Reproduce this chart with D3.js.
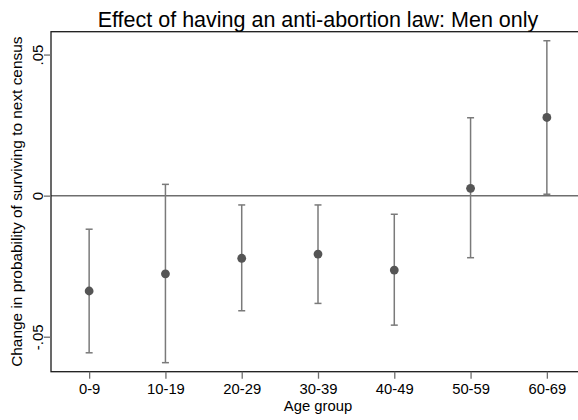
<!DOCTYPE html>
<html>
<head>
<meta charset="utf-8">
<script src="https://cdn.jsdelivr.net/npm/d3@7"></script>
<style>
  html, body { margin: 0; padding: 0; background: #fff; }
  svg { display: block; font-family: "Liberation Sans", Arial, sans-serif; }
</style>
</head>
<body>
<svg id="chart" width="578" height="420"></svg>
<script>
// Age groups and estimated effects with 95% confidence bounds
const categories = ["0-9", "10-19", "20-29", "30-39", "40-49", "50-59", "60-69"];
const estimates  = [-0.0338, -0.0277, -0.0222, -0.0207, -0.0264, 0.0026, 0.0277];
const lowerBound = [-0.0557, -0.0592, -0.0408, -0.0382, -0.0459, -0.0220, 0.0005];
const upperBound = [-0.0119, 0.0040, -0.0033, -0.0033, -0.0066, 0.0276, 0.0549];
const yTickValues = [-0.05, 0, 0.05];
const yTickLabels = ["-.05", "0", ".05"];

const titleText = "Effect of having an anti-abortion law: Men only";
const yTitleText = "Change in probability of surviving to next census";
const xTitleText = "Age group";

const svg = d3.select("#chart");
const plot = { left: 51, right: 585, top: 31.7, bottom: 371.7 };

const x = d3.scaleLinear().domain([0.5, categories.length + 0.5]).range([plot.left, plot.right]);
const y = d3.scaleLinear().domain([-0.0624, 0.0581]).range([plot.bottom, plot.top]);

const rows = categories.map((c, i) => ({
  cat: c, pos: i + 1, est: estimates[i], lo: lowerBound[i], hi: upperBound[i]
}));

// Zero reference line
svg.append("line")
  .attr("x1", plot.left).attr("x2", plot.right)
  .attr("y1", y(0)).attr("y2", y(0))
  .attr("stroke", "#6e6e6e").attr("stroke-width", 1.5);

// Confidence intervals
const capHalf = 3.5;
const ci = svg.append("g").attr("stroke", "#7a7a7a").attr("stroke-width", 1.5);
ci.selectAll("line.bar").data(rows).join("line").attr("class", "bar")
  .attr("x1", d => x(d.pos)).attr("x2", d => x(d.pos))
  .attr("y1", d => y(d.lo)).attr("y2", d => y(d.hi));
ci.selectAll("line.capHi").data(rows).join("line").attr("class", "capHi")
  .attr("x1", d => x(d.pos) - capHalf).attr("x2", d => x(d.pos) + capHalf)
  .attr("y1", d => y(d.hi)).attr("y2", d => y(d.hi));
ci.selectAll("line.capLo").data(rows).join("line").attr("class", "capLo")
  .attr("x1", d => x(d.pos) - capHalf).attr("x2", d => x(d.pos) + capHalf)
  .attr("y1", d => y(d.lo)).attr("y2", d => y(d.lo));

// Point estimates
svg.append("g").selectAll("circle").data(rows).join("circle")
  .attr("cx", d => x(d.pos)).attr("cy", d => y(d.est)).attr("r", 4.4)
  .attr("fill", "#555555");

// Plot frame
svg.append("rect")
  .attr("x", plot.left).attr("y", plot.top)
  .attr("width", plot.right - plot.left).attr("height", plot.bottom - plot.top)
  .attr("fill", "none").attr("stroke", "#1a1a1a").attr("stroke-width", 1.3);

// Y axis
const yAxis = d3.axisLeft(y)
  .tickValues(yTickValues)
  .tickFormat((d, i) => yTickLabels[i])
  .tickSize(7).tickPadding(0);
const gy = svg.append("g").attr("transform", `translate(${plot.left},0)`).call(yAxis);
gy.select(".domain").remove();
gy.selectAll(".tick line").attr("stroke", "#6e6e6e").attr("stroke-width", 1.3);
gy.selectAll(".tick text")
  .attr("x", 0).attr("dy", null)
  .attr("transform", "translate(-8,0) rotate(-90)")
  .attr("text-anchor", "middle")
  .attr("font-size", 15).attr("fill", "#000")
  .attr("font-family", "Liberation Sans, Arial, sans-serif");

// X axis
const xAxis = d3.axisBottom(x)
  .tickValues(rows.map(d => d.pos))
  .tickFormat((d, i) => categories[i])
  .tickSize(7).tickPadding(4);
const gx = svg.append("g").attr("transform", `translate(0,${plot.bottom})`).call(xAxis);
gx.select(".domain").remove();
gx.selectAll(".tick line").attr("stroke", "#6e6e6e").attr("stroke-width", 1.3);
gx.selectAll(".tick text")
  .attr("y", 22.5).attr("dy", null)
  .attr("font-size", 14.8).attr("fill", "#000")
  .attr("font-family", "Liberation Sans, Arial, sans-serif");

const cx = (plot.left + plot.right) / 2;
const cy = (plot.top + plot.bottom) / 2;

// Titles
svg.append("text")
  .attr("x", cx).attr("y", 27)
  .attr("text-anchor", "middle").attr("font-size", 21.5).attr("fill", "#000")
  .text(titleText);

svg.append("text")
  .attr("x", cx).attr("y", 410.5)
  .attr("text-anchor", "middle").attr("font-size", 14.8).attr("fill", "#000")
  .text(xTitleText);

svg.append("text")
  .attr("transform", `translate(22,${cy}) rotate(-90)`)
  .attr("text-anchor", "middle").attr("font-size", 15.4).attr("fill", "#000")
  .text(yTitleText);
</script>
</body>
</html>
